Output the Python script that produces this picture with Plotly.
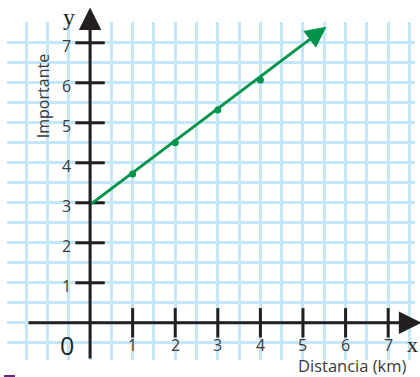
import plotly.graph_objects as go

# ===== Datos =====
x_pts = [1, 2, 3, 4]
y_pts = [3.72, 4.5, 5.32, 6.07]
line_start = (0, 2.95)
line_end = (5.55, 7.4)

x_ticks = [1, 2, 3, 4, 5, 6, 7]
y_ticks = [1, 2, 3, 4, 5, 6, 7]
x_tick_labels = [str(v) for v in x_ticks]
y_tick_labels = [str(v) for v in y_ticks]

AXIS = "#231f20"
GRID = "#c3e7f8"
GREEN = "#00944a"
LABEL = "#3a3a3a"

fig = go.Figure()

# ===== Marcas de los ejes =====
fig.add_trace(go.Scatter(
    x=x_ticks, y=[0] * len(x_ticks), mode="markers",
    marker=dict(symbol="line-ns", size=21, line=dict(width=3, color=AXIS)),
    hoverinfo="skip", showlegend=False, cliponaxis=False
))
fig.add_trace(go.Scatter(
    x=[0] * len(y_ticks), y=y_ticks, mode="markers",
    marker=dict(symbol="line-ew", size=21, line=dict(width=3, color=AXIS)),
    hoverinfo="skip", showlegend=False, cliponaxis=False
))

# ===== Puntos =====
fig.add_trace(go.Scatter(
    x=x_pts, y=y_pts, mode="markers",
    marker=dict(size=7, color=GREEN),
    showlegend=False, cliponaxis=False
))

ann = []
# ejes con flecha
ann.append(dict(x=7.78, y=0, ax=-1.48, ay=0, xref="x", yref="y", axref="x", ayref="y",
                showarrow=True, arrowhead=2, arrowsize=1.5, arrowwidth=3,
                arrowcolor=AXIS, text="", standoff=0))
ann.append(dict(x=0, y=7.88, ax=0, ay=-0.93, xref="x", yref="y", axref="x", ayref="y",
                showarrow=True, arrowhead=2, arrowsize=1.5, arrowwidth=3,
                arrowcolor=AXIS, text="", standoff=0))
# recta
ann.append(dict(x=line_end[0], y=line_end[1], ax=line_start[0], ay=line_start[1],
                xref="x", yref="y", axref="x", ayref="y",
                showarrow=True, arrowhead=2, arrowsize=1.4, arrowwidth=3,
                arrowcolor=GREEN, text="", standoff=0))

font_num = dict(family="Open Sans", size=16, color=LABEL)
for v, t in zip(y_ticks, y_tick_labels):
    ann.append(dict(x=-0.4, y=v - 0.08, xref="x", yref="y", text=t, showarrow=False,
                    xanchor="right", yanchor="middle", font=font_num))
for v, t in zip(x_ticks, x_tick_labels):
    ann.append(dict(x=v, y=-0.56, xref="x", yref="y", text=t, showarrow=False,
                    xanchor="center", yanchor="middle", font=font_num))

ann.append(dict(x=-0.54, y=-0.56, xref="x", yref="y", text="0", showarrow=False,
                font=dict(family="Open Sans", size=25, color=AXIS)))
ann.append(dict(x=0.152, y=1.015, xref="paper", yref="paper", text="y", showarrow=False,
                xanchor="center", yanchor="middle",
                font=dict(family="Liberation Serif", size=24, color=AXIS)))
ann.append(dict(x=7.58, y=-0.53, xref="x", yref="y", text="x", showarrow=False,
                font=dict(family="Liberation Serif", size=22, color=AXIS)))
ann.append(dict(x=-1.1, y=5.67, xref="x", yref="y", text="Importante", showarrow=False,
                textangle=-90, font=dict(family="Open Sans", size=16, color=LABEL)))
ann.append(dict(x=0.848, y=-0.015, xref="paper", yref="paper", text="Distancia (km)",
                showarrow=False, xanchor="center", yanchor="middle",
                font=dict(family="Open Sans", size=16.5, color=LABEL)))
ann.append(dict(x=0.034, y=-0.038, xref="paper", yref="paper", text="figura 1",
                showarrow=False, xanchor="left", yanchor="top",
                font=dict(family="Open Sans", size=15, color="#888888")))

fig.add_shape(type="rect", xref="paper", yref="paper",
              x0=-0.0075, x1=0.0196, y0=-0.06, y1=-0.0444,
              fillcolor="#5b2a86", line=dict(width=0))

fig.update_layout(
    width=420, height=377,
    margin=dict(l=7, r=5, t=22, b=17),
    paper_bgcolor="white", plot_bgcolor="white",
    xaxis=dict(range=[-1.95, 7.63], dtick=0.5, tick0=0, showgrid=True,
               gridcolor=GRID, gridwidth=3, zeroline=False, showline=False,
               showticklabels=False, ticks=""),
    yaxis=dict(range=[-0.93, 7.52], dtick=0.5, tick0=0, showgrid=True,
               gridcolor=GRID, gridwidth=3, zeroline=False, showline=False,
               showticklabels=False, ticks=""),
    annotations=ann,
    showlegend=False
)

fig.write_html("out.html", config={"displayModeBar": False},
               post_script="document.body.style.margin='0';")
